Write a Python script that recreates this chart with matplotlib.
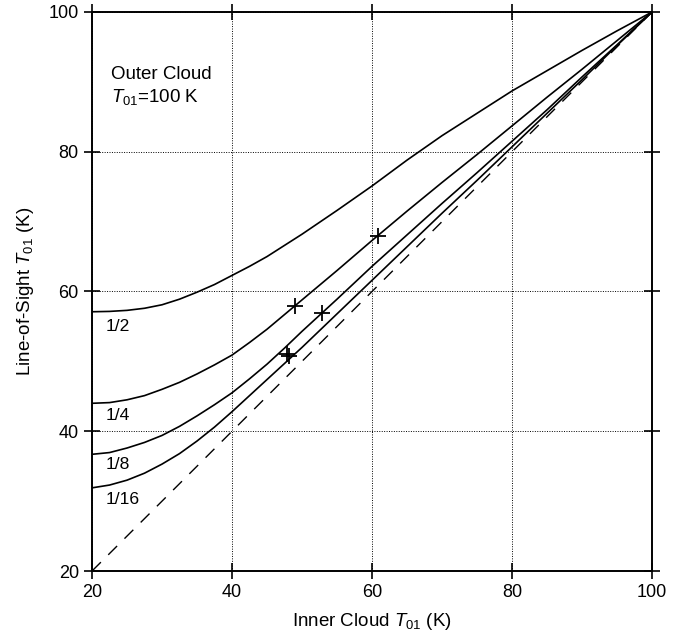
#!/usr/bin/python
#
# Line-of-sight T01 against inner cloud T01 for an outer cloud at 100 K

import matplotlib
matplotlib.use("Agg")
import matplotlib.pyplot as plt

plt.rcParams['font.family'] = ['Liberation Sans', 'DejaVu Sans']
plt.rcParams['mathtext.fontset'] = 'custom'
plt.rcParams['mathtext.it'] = 'Liberation Sans:italic'
plt.rcParams['mathtext.rm'] = 'Liberation Sans'

# inner cloud temperature (K)
T_INNER = [20, 22.5, 25, 27.5, 30, 32.5, 35, 37.5, 40, 42.5, 45, 47.5, 50,
           55, 60, 65, 70, 75, 80, 85, 90, 95, 100]

# line-of-sight temperature for each filling fraction
T_HALF = [57.1, 57.15, 57.3, 57.6, 58.1, 58.9, 59.9, 61.0, 62.3, 63.6, 65.0, 66.6, 68.2,
          71.6, 75.1, 78.8, 82.3, 85.5, 88.7, 91.6, 94.5, 97.3, 100]
T_QUARTER = [44.0, 44.1, 44.5, 45.1, 46.0, 47.0, 48.2, 49.5, 50.9, 52.7, 54.6, 56.7, 58.8,
             63.0, 67.3, 71.5, 75.6, 79.6, 83.7, 87.8, 91.8, 95.9, 100]
T_EIGHTH = [36.7, 36.95, 37.6, 38.4, 39.4, 40.7, 42.2, 43.8, 45.5, 47.5, 49.6, 51.9, 54.3,
            58.9, 63.6, 68.1, 72.6, 77.0, 81.5, 86.0, 90.7, 95.3, 100]
T_SIXTEENTH = [31.9, 32.3, 33.0, 34.0, 35.3, 36.8, 38.6, 40.6, 42.8, 45.1, 47.4, 49.7, 52.0,
               56.8, 61.6, 66.4, 71.2, 75.9, 80.7, 85.5, 90.3, 95.2, 100]

CURVES = [("1/2", T_HALF, 55.0), ("1/4", T_QUARTER, 42.3),
          ("1/8", T_EIGHTH, 35.2), ("1/16", T_SIXTEENTH, 30.3)]

# observed points
OBS_X = [49.0, 52.8, 60.8, 47.9, 48.1]
OBS_Y = [57.9, 56.9, 68.0, 51.0, 50.8]

fig = plt.figure(figsize=(6.94, 6.41), dpi=100)
ax = fig.add_axes([0.1326, 0.1092, 0.8069, 0.8721])

ax.plot([20, 100], [20, 100], color='black', lw=1.0, dashes=(9, 7.5))
for label, vals, ylab in CURVES:
    ax.plot(T_INNER, vals, color='black', lw=1.2)
    ax.text(21.9, ylab, label, fontsize=12.6, va='center', ha='left')

ax.plot(OBS_X, OBS_Y, ls='none', marker='+', color='black', ms=12, mew=1.3)

ax.text(22.7, 91.0, "Outer Cloud", fontsize=13.5, va='center', ha='left')
ax.text(22.7, 87.8, "$T_{01}$=100 K", fontsize=13.5, va='center', ha='left')

ax.set_xlim(20, 100)
ax.set_ylim(20, 100)
ax.set_xticks([20, 40, 60, 80, 100])
ax.set_yticks([20, 40, 60, 80, 100])
ax.grid(True, color='black', ls=(0, (1, 1.5)), lw=0.7)
ax.tick_params(direction='inout', length=11, width=1.2, labelsize=13,
               top=True, right=True, pad=4)
for sp in ax.spines.values():
    sp.set_linewidth(1.4)

ax.set_xlabel("Inner Cloud $T_{01}$ (K)", fontsize=13.5, labelpad=7)
ax.set_ylabel("Line-of-Sight $T_{01}$ (K)", fontsize=13.5, labelpad=9)

plt.savefig("out.png", dpi=100)
